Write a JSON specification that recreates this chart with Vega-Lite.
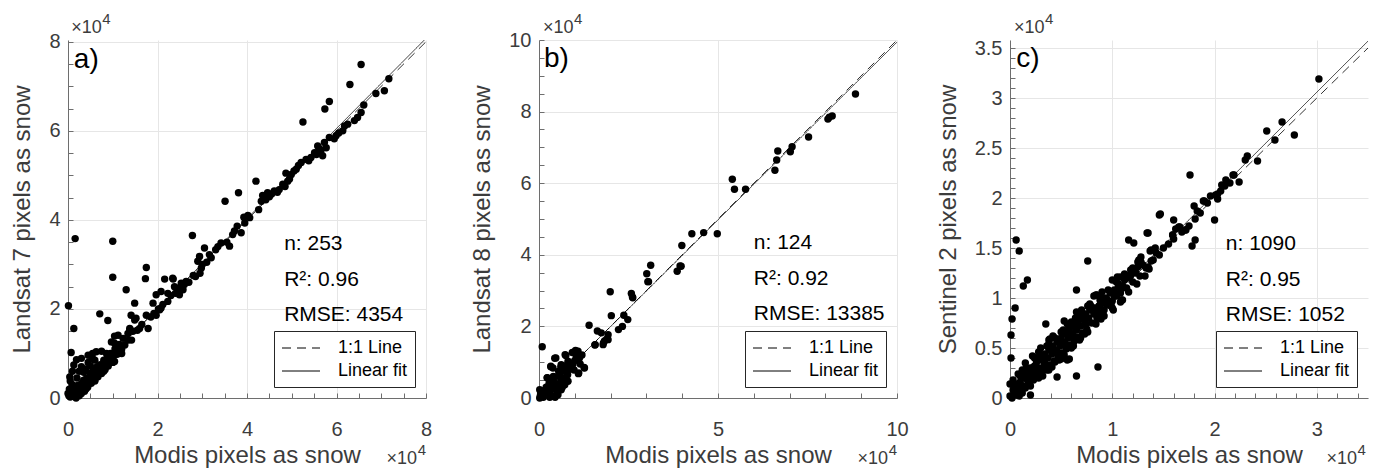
{
  "$schema": "https://vega.github.io/schema/vega-lite/v6.json",
  "background": "white",
  "padding": {"left": 10, "top": 11, "right": 5, "bottom": 0},
  "bounds": "flush",
  "spacing": 113,
  "resolve": {"scale": {"strokeDash": "independent"}, "legend": {"strokeDash": "independent"}},
  "config": {
    "font": "Liberation Sans",
    "view": {"stroke": null},
    "axis": {"labelFontSize": 20, "labelColor": "#3c3c3c", "titleFontSize": 24, "titleFontWeight": "normal", "titleColor": "#3c3c3c", "domainColor": "#6e6e6e", "tickColor": "#6e6e6e", "tickSize": -5, "gridColor": "#e6e6e6", "labelFlush": false, "labelOverlap": false, "tickCount": 200, "labelExpr": "datum.value % 1 === 0 ? '' + datum.value / 10000 : ''"},
    "axisX": {"labelPadding": 26, "titlePadding": 4},
    "axisY": {"labelPadding": 13, "titlePadding": 14},
    "legend": {"orient": "bottom-right", "offset": 11, "strokeColor": "#262626", "fillColor": "white", "padding": 7, "rowPadding": 4, "labelFontSize": 18, "labelColor": "black", "labelFont": "Liberation Sans", "symbolType": "M-2,0H2", "symbolSize": 361, "symbolStrokeWidth": 1, "symbolStrokeColor": "black", "symbolOffset": 10, "labelOffset": 27}
  },
  "hconcat": [
    {
      "width": 358, "height": 358,
      "layer": [
        {
          "data": {"values": [
            {"modis":65500,"sat":74900},{"modis":71700,"sat":71700},{"modis":63000,"sat":70400},{"modis":70700,"sat":69000},{"modis":68800,"sat":68400},{"modis":58400,"sat":66600},{"modis":57400,"sat":64900},{"modis":66100,"sat":65800},{"modis":65500,"sat":64100},{"modis":64700,"sat":63000},{"modis":64000,"sat":62300},{"modis":52500,"sat":62000},{"modis":61800,"sat":61100},{"modis":61400,"sat":60000},{"modis":59900,"sat":58900},{"modis":58400,"sat":58500},{"modis":57300,"sat":57400},{"modis":57700,"sat":56200},{"modis":55800,"sat":56600},{"modis":56500,"sat":55500},{"modis":56900,"sat":54400},{"modis":55100,"sat":55100},{"modis":54300,"sat":54000},{"modis":53200,"sat":53600},{"modis":52100,"sat":52900},{"modis":51000,"sat":51400},{"modis":49900,"sat":50200},{"modis":48700,"sat":50500},{"modis":49100,"sat":48700},{"modis":48000,"sat":48000},{"modis":47200,"sat":46800},{"modis":46100,"sat":46500},{"modis":44600,"sat":46100},{"modis":43900,"sat":45000},{"modis":43200,"sat":44200},{"modis":42000,"sat":48700},{"modis":42600,"sat":42300},{"modis":40600,"sat":40500},{"modis":39300,"sat":40600},{"modis":38100,"sat":46100},{"modis":35100,"sat":44200},{"modis":38700,"sat":37100},{"modis":37800,"sat":38600},{"modis":36800,"sat":36700},{"modis":36100,"sat":34100},{"modis":34200,"sat":34800},{"modis":33000,"sat":33300},{"modis":31600,"sat":32200},{"modis":30500,"sat":33700},{"modis":29400,"sat":31800},{"modis":29000,"sat":30700},{"modis":29800,"sat":29200},{"modis":28500,"sat":27300},{"modis":27800,"sat":36500},{"modis":26400,"sat":26200},{"modis":25700,"sat":24300},{"modis":24900,"sat":23200},{"modis":23800,"sat":25000},{"modis":23400,"sat":26900},{"modis":21600,"sat":26700},{"modis":22300,"sat":23500},{"modis":20800,"sat":23900},{"modis":19700,"sat":23200},{"modis":22300,"sat":21700},{"modis":20800,"sat":20200},{"modis":19700,"sat":18600},{"modis":19000,"sat":21300},{"modis":17500,"sat":29300},{"modis":17300,"sat":26800},{"modis":17500,"sat":18600},{"modis":17900,"sat":15600},{"modis":16000,"sat":15600},{"modis":14900,"sat":21300},{"modis":15200,"sat":17900},{"modis":14100,"sat":18600},{"modis":13000,"sat":24300},{"modis":13800,"sat":15600},{"modis":13400,"sat":14500},{"modis":12300,"sat":13400},{"modis":11200,"sat":14100},{"modis":10000,"sat":35200},{"modis":10000,"sat":27100},{"modis":10400,"sat":12300},{"modis":9700,"sat":12600},{"modis":8900,"sat":17400},{"modis":7100,"sat":18900},{"modis":8600,"sat":10000},{"modis":1600,"sat":35800},{"modis":100,"sat":20700},{"modis":1300,"sat":15600},{"modis":700,"sat":10200},{"modis":6300,"sat":10400},{"modis":4500,"sat":9600},{"modis":3000,"sat":8900},{"modis":1900,"sat":8600},{"modis":1300,"sat":7400},{"modis":400,"sat":4700},{"modis":700,"sat":1000},{"modis":0,"sat":1000},
            {"modis":62500,"sat":61500},{"modis":60500,"sat":59500},{"modis":59500,"sat":58200},{"modis":56200,"sat":56000},{"modis":55500,"sat":54700},{"modis":53800,"sat":53300},{"modis":51500,"sat":52200},{"modis":50500,"sat":51000},{"modis":49500,"sat":49200},{"modis":48500,"sat":47500},{"modis":46800,"sat":46200},{"modis":45500,"sat":45800},{"modis":45000,"sat":45200},{"modis":44200,"sat":44500},{"modis":43500,"sat":45500},{"modis":40200,"sat":41000},{"modis":39500,"sat":39300},{"modis":37200,"sat":37500},{"modis":35500,"sat":35000},{"modis":33500,"sat":34000},{"modis":32000,"sat":31500},{"modis":31000,"sat":30500},{"modis":30000,"sat":30000},{"modis":29500,"sat":28000},{"modis":28000,"sat":27500},{"modis":27000,"sat":26000},{"modis":26000,"sat":25500},{"modis":25200,"sat":25000},{"modis":24500,"sat":24000},{"modis":24000,"sat":23500},{"modis":23000,"sat":23000},{"modis":21200,"sat":21000},{"modis":20200,"sat":20000},{"modis":19200,"sat":19000},{"modis":18500,"sat":18200},{"modis":16500,"sat":16500},{"modis":15500,"sat":15200},{"modis":14500,"sat":15000},{"modis":13500,"sat":13000},{"modis":12700,"sat":11900},{"modis":11600,"sat":10800},{"modis":10400,"sat":8200},{"modis":14900,"sat":17500},{"modis":13800,"sat":15300},{"modis":14200,"sat":13000},{"modis":20500,"sat":19800},{"modis":23500,"sat":26700},{"modis":25300,"sat":25800},{"modis":10400,"sat":13900},
            {"modis":200,"sat":500},{"modis":500,"sat":200},{"modis":800,"sat":1200},{"modis":1000,"sat":400},{"modis":1200,"sat":2000},{"modis":1500,"sat":800},{"modis":1800,"sat":0},{"modis":2000,"sat":1500},{"modis":2200,"sat":2800},{"modis":2500,"sat":500},{"modis":2700,"sat":1800},{"modis":3000,"sat":1000},{"modis":3000,"sat":3200},{"modis":3300,"sat":2200},{"modis":3500,"sat":4000},{"modis":3700,"sat":1500},{"modis":4000,"sat":3000},{"modis":4200,"sat":4500},{"modis":4400,"sat":2400},{"modis":4700,"sat":3800},{"modis":5000,"sat":5500},{"modis":5200,"sat":3300},{"modis":5500,"sat":4500},{"modis":5700,"sat":6200},{"modis":6000,"sat":4000},{"modis":6200,"sat":5200},{"modis":6500,"sat":7000},{"modis":6700,"sat":4800},{"modis":7000,"sat":6000},{"modis":7200,"sat":7500},{"modis":7500,"sat":5500},{"modis":7800,"sat":6800},{"modis":8000,"sat":8500},{"modis":8300,"sat":6400},{"modis":8500,"sat":7800},{"modis":8800,"sat":9200},{"modis":9000,"sat":7200},{"modis":9300,"sat":8600},{"modis":9500,"sat":10000},{"modis":9800,"sat":8000},{"modis":10200,"sat":9500},{"modis":10500,"sat":11000},{"modis":11000,"sat":9800},{"modis":11500,"sat":12000},{"modis":12000,"sat":11000},{"modis":1000,"sat":3000},{"modis":500,"sat":3800},{"modis":2000,"sat":4500},{"modis":3500,"sat":5800},{"modis":5000,"sat":7200},{"modis":6000,"sat":8500},{"modis":2500,"sat":6000},{"modis":4000,"sat":6500},{"modis":1500,"sat":2500},{"modis":300,"sat":2000},{"modis":4500,"sat":8000},{"modis":5500,"sat":8800},
            {"modis":1000,"sat":6000},{"modis":3000,"sat":7000},{"modis":5500,"sat":10000},{"modis":7500,"sat":10500},{"modis":4000,"sat":2000},{"modis":6000,"sat":3800},{"modis":8000,"sat":6000},{"modis":10000,"sat":8000},{"modis":12000,"sat":10000},{"modis":2500,"sat":1200},{"modis":6500,"sat":5800},{"modis":9000,"sat":8200}
          ]},
          "mark": {"type": "circle", "size": 55, "color": "black", "opacity": 1},
          "encoding": {
            "x": {"field": "modis", "type": "quantitative", "title": "Modis pixels as snow", "scale": {"domain": [0, 80000], "nice": false, "zero": false},
              "axis": {"values": [0,5000.5,10000.5,15000.5,20000,25000.5,30000.5,35000.5,40000,45000.5,50000.5,55000.5,60000,65000.5,70000.5,75000.5,80000], "tickCount": 200, "labelOverlap": false, "gridOpacity": {"condition": {"test": "datum.value % 1 === 0", "value": 1}, "value": 0}}},
            "y": {"field": "sat", "type": "quantitative", "title": "Landsat 7 pixels as snow", "scale": {"domain": [0, 80400], "nice": false, "zero": false},
              "axis": {"values": [0,5000.5,10000.5,15000.5,20000,25000.5,30000.5,35000.5,40000,45000.5,50000.5,55000.5,60000,65000.5,70000.5,75000.5,80000], "tickCount": 200, "labelOverlap": false, "gridOpacity": {"condition": {"test": "datum.value % 1 === 0", "value": 1}, "value": 0}}}
          }
        },
        {
          "data": {"values": [{"modis": 0, "sat": 0, "line": "1:1 Line"}, {"modis": 82000, "sat": 82000, "line": "1:1 Line"}, {"modis": 0, "sat": -200, "line": "Linear fit"}, {"modis": 82000, "sat": 82800, "line": "Linear fit"}]},
          "mark": {"type": "line", "color": "black", "strokeWidth": 0.8, "clip": true},
          "encoding": {
            "x": {"field": "modis", "type": "quantitative"},
            "y": {"field": "sat", "type": "quantitative"},
            "strokeDash": {"field": "line", "type": "nominal", "scale": {"domain": ["1:1 Line", "Linear fit"], "range": [[9, 6], [1, 0]]}, "legend": {"title": null}}
          }
        },
        {
          "data": {"values": [{"label": "a)"}]},
          "mark": {"type": "text", "align": "left", "baseline": "alphabetic", "fontSize": 28, "color": "black"},
          "encoding": {"x": {"datum": 1300, "type": "quantitative"}, "y": {"datum": 74100, "type": "quantitative"}, "text": {"field": "label"}}
        },
        {
          "data": {"values": [{"n": "n: 253"}]},
          "mark": {"type": "text", "align": "left", "baseline": "alphabetic", "fontSize": 21, "color": "black", "lineHeight": 35.5},
          "encoding": {"x": {"datum": 48300, "type": "quantitative"}, "y": {"datum": 33200, "type": "quantitative"}, "text": {"value": ["n: 253", "R²: 0.96", "RMSE: 4354"]}}
        },
        {
          "data": {"values": [{"label": "×10"}]},
          "mark": {"type": "text", "align": "left", "baseline": "alphabetic", "fontSize": 18, "color": "#3c3c3c"},
          "encoding": {"x": {"datum": 700, "type": "quantitative"}, "y": {"datum": 82000, "type": "quantitative"}, "text": {"field": "label"}}
        },
        {
          "data": {"values": [{"label": "4"}]},
          "mark": {"type": "text", "align": "left", "baseline": "alphabetic", "fontSize": 15, "color": "#3c3c3c", "dx": 31, "dy": -9},
          "encoding": {"x": {"datum": 700, "type": "quantitative"}, "y": {"datum": 82000, "type": "quantitative"}, "text": {"field": "label"}}
        },
        {
          "data": {"values": [{"label": "×10"}]},
          "mark": {"type": "text", "align": "right", "baseline": "alphabetic", "fontSize": 18, "color": "#3c3c3c", "dx": -9},
          "encoding": {"x": {"datum": 80000, "type": "quantitative"}, "y": {"datum": -14800, "type": "quantitative"}, "text": {"field": "label"}}
        },
        {
          "data": {"values": [{"label": "4"}]},
          "mark": {"type": "text", "align": "right", "baseline": "alphabetic", "fontSize": 15, "color": "#3c3c3c", "dy": -9},
          "encoding": {"x": {"datum": 80000, "type": "quantitative"}, "y": {"datum": -14800, "type": "quantitative"}, "text": {"field": "label"}}
        }
      ]
    },
    {
      "width": 358, "height": 358,
      "layer": [
        {
          "data": {"values": [
            {"modis":88400,"sat":84900},{"modis":81900,"sat":78800},{"modis":80700,"sat":77900},{"modis":81100,"sat":78400},{"modis":75300,"sat":72900},{"modis":70700,"sat":70200},{"modis":70200,"sat":68800},{"modis":66700,"sat":69000},{"modis":66400,"sat":66500},{"modis":65900,"sat":63600},{"modis":54000,"sat":61100},{"modis":54600,"sat":58300},{"modis":57700,"sat":58300},{"modis":49800,"sat":45900},{"modis":46000,"sat":46200},{"modis":42700,"sat":45900},{"modis":39900,"sat":42600},{"modis":39700,"sat":36800},{"modis":38600,"sat":35400},{"modis":31200,"sat":37100},{"modis":30100,"sat":34700},{"modis":30600,"sat":32500},{"modis":25800,"sat":29200},{"modis":26200,"sat":28000},{"modis":19900,"sat":29700},{"modis":20200,"sat":23000},{"modis":23700,"sat":23100},{"modis":24800,"sat":21900},{"modis":23300,"sat":20000},{"modis":22200,"sat":19100},{"modis":14000,"sat":20300},{"modis":16300,"sat":18700},{"modis":17400,"sat":18200},{"modis":19300,"sat":17700},{"modis":19300,"sat":16300},{"modis":18300,"sat":15900},{"modis":15700,"sat":14900},{"modis":17900,"sat":14900},{"modis":900,"sat":14300},{"modis":12700,"sat":8400},{"modis":10900,"sat":13100},{"modis":10400,"sat":11700},{"modis":11300,"sat":11200},{"modis":11100,"sat":7000},{"modis":7300,"sat":12100},{"modis":4700,"sat":11200},{"modis":3300,"sat":8900},{"modis":2300,"sat":5600},{"modis":3900,"sat":8400},{"modis":6200,"sat":9300},{"modis":8100,"sat":10300},{"modis":9000,"sat":8900},{"modis":7200,"sat":7500},{"modis":5300,"sat":6100},{"modis":6200,"sat":4700},{"modis":8100,"sat":4700},{"modis":4400,"sat":3700},{"modis":3400,"sat":2800},{"modis":2500,"sat":1400},{"modis":700,"sat":500},{"modis":200,"sat":2300},{"modis":200,"sat":0},{"modis":3900,"sat":500},{"modis":5300,"sat":900},{"modis":6200,"sat":2300},{"modis":7200,"sat":3700},
            {"modis":39400,"sat":36900},{"modis":30400,"sat":32500},{"modis":26100,"sat":28200},{"modis":18900,"sat":16400},{"modis":18000,"sat":15400},{"modis":15600,"sat":14800},{"modis":10200,"sat":13300},{"modis":10900,"sat":11900},
            {"modis":9300,"sat":12700},{"modis":7500,"sat":11900},{"modis":4400,"sat":11100},{"modis":3300,"sat":8700},{"modis":2300,"sat":5700},{"modis":12600,"sat":8500},{"modis":11000,"sat":6800},{"modis":8400,"sat":9900},{"modis":6100,"sat":8700},
            {"modis":1000,"sat":1000},{"modis":1500,"sat":2000},{"modis":2000,"sat":3000},{"modis":3000,"sat":1500},{"modis":3500,"sat":4500},{"modis":4000,"sat":6000},{"modis":4500,"sat":2500},{"modis":5000,"sat":4000},{"modis":5500,"sat":7500},{"modis":6000,"sat":6000},{"modis":6500,"sat":3000},{"modis":7000,"sat":5500},{"modis":7500,"sat":9000},{"modis":8000,"sat":6500},{"modis":8500,"sat":8000},{"modis":9500,"sat":9500},{"modis":10000,"sat":10500},{"modis":5000,"sat":1500},{"modis":4500,"sat":200},{"modis":3000,"sat":200},{"modis":5800,"sat":3500},{"modis":6800,"sat":4500},{"modis":4000,"sat":5000},{"modis":2800,"sat":4000},{"modis":1200,"sat":200},{"modis":500,"sat":1500},{"modis":12000,"sat":12000},{"modis":11500,"sat":9500},{"modis":9800,"sat":7800},{"modis":600,"sat":2000},{"modis":400,"sat":800}
          ]},
          "mark": {"type": "circle", "size": 55, "color": "black", "opacity": 1},
          "encoding": {
            "x": {"field": "modis", "type": "quantitative", "title": "Modis pixels as snow", "scale": {"domain": [0, 100000], "nice": false, "zero": false},
              "axis": {"values": [0,10000.5,20000.5,30000.5,40000.5,50000,60000.5,70000.5,80000.5,90000.5,100000], "tickCount": 200, "labelOverlap": false, "gridOpacity": {"condition": {"test": "datum.value % 1 === 0", "value": 1}, "value": 0}}},
            "y": {"field": "sat", "type": "quantitative", "title": "Landsat 8 pixels as snow", "scale": {"domain": [0, 100000], "nice": false, "zero": false},
              "axis": {"values": [0,5000.5,10000.5,15000.5,20000,25000.5,30000.5,35000.5,40000,45000.5,50000.5,55000.5,60000,65000.5,70000.5,75000.5,80000,85000.5,90000.5,95000.5,100000], "tickCount": 200, "labelOverlap": false, "gridOpacity": {"condition": {"test": "datum.value % 1 === 0", "value": 1}, "value": 0}}}
          }
        },
        {
          "data": {"values": [{"modis": 0, "sat": 0, "line": "1:1 Line"}, {"modis": 102000, "sat": 102000, "line": "1:1 Line"}, {"modis": 0, "sat": 100, "line": "Linear fit"}, {"modis": 102000, "sat": 101400, "line": "Linear fit"}]},
          "mark": {"type": "line", "color": "black", "strokeWidth": 0.8, "clip": true},
          "encoding": {
            "x": {"field": "modis", "type": "quantitative"},
            "y": {"field": "sat", "type": "quantitative"},
            "strokeDash": {"field": "line", "type": "nominal", "scale": {"domain": ["1:1 Line", "Linear fit"], "range": [[9, 6], [1, 0]]}, "legend": {"title": null}}
          }
        },
        {
          "data": {"values": [{"label": "b)"}]},
          "mark": {"type": "text", "align": "left", "baseline": "alphabetic", "fontSize": 28, "color": "black"},
          "encoding": {"x": {"datum": 1400, "type": "quantitative"}, "y": {"datum": 92500, "type": "quantitative"}, "text": {"field": "label"}}
        },
        {
          "data": {"values": [{"n": "n: 124"}]},
          "mark": {"type": "text", "align": "left", "baseline": "alphabetic", "fontSize": 21, "color": "black", "lineHeight": 35.5},
          "encoding": {"x": {"datum": 60000, "type": "quantitative"}, "y": {"datum": 41600, "type": "quantitative"}, "text": {"value": ["n: 124", "R²: 0.92", "RMSE: 13385"]}}
        },
        {
          "data": {"values": [{"label": "×10"}]},
          "mark": {"type": "text", "align": "left", "baseline": "alphabetic", "fontSize": 18, "color": "#3c3c3c"},
          "encoding": {"x": {"datum": 1100, "type": "quantitative"}, "y": {"datum": 101950, "type": "quantitative"}, "text": {"field": "label"}}
        },
        {
          "data": {"values": [{"label": "4"}]},
          "mark": {"type": "text", "align": "left", "baseline": "alphabetic", "fontSize": 15, "color": "#3c3c3c", "dx": 31, "dy": -9},
          "encoding": {"x": {"datum": 1100, "type": "quantitative"}, "y": {"datum": 101950, "type": "quantitative"}, "text": {"field": "label"}}
        },
        {
          "data": {"values": [{"label": "×10"}]},
          "mark": {"type": "text", "align": "right", "baseline": "alphabetic", "fontSize": 18, "color": "#3c3c3c", "dx": -9},
          "encoding": {"x": {"datum": 100000, "type": "quantitative"}, "y": {"datum": -18400, "type": "quantitative"}, "text": {"field": "label"}}
        },
        {
          "data": {"values": [{"label": "4"}]},
          "mark": {"type": "text", "align": "right", "baseline": "alphabetic", "fontSize": 15, "color": "#3c3c3c", "dy": -9},
          "encoding": {"x": {"datum": 100000, "type": "quantitative"}, "y": {"datum": -18400, "type": "quantitative"}, "text": {"field": "label"}}
        }
      ]
    },
    {
      "width": 358, "height": 358,
      "layer": [
        {
          "data": {"values": [
            {"modis":30200,"sat":31900},{"modis":26600,"sat":27600},{"modis":25100,"sat":26700},{"modis":27800,"sat":26300},{"modis":25900,"sat":25800},{"modis":23200,"sat":24200},{"modis":23000,"sat":23800},{"modis":24200,"sat":23700},{"modis":17600,"sat":22300},{"modis":21800,"sat":22300},{"modis":22400,"sat":21600},{"modis":21100,"sat":21800},{"modis":20700,"sat":21300},{"modis":20300,"sat":20400},{"modis":19600,"sat":20200},{"modis":20300,"sat":19900},{"modis":19000,"sat":19700},{"modis":18000,"sat":19200},{"modis":18300,"sat":18700},{"modis":18100,"sat":17900},{"modis":20000,"sat":17800},{"modis":14600,"sat":18300},{"modis":16000,"sat":17800},{"modis":17100,"sat":16800},{"modis":16500,"sat":17100},{"modis":15900,"sat":16300},{"modis":16000,"sat":15900},{"modis":18100,"sat":15800},{"modis":17800,"sat":15200},{"modis":13400,"sat":16500},{"modis":11600,"sat":15800},{"modis":12100,"sat":15500},{"modis":13700,"sat":14700},{"modis":14600,"sat":14300},{"modis":12800,"sat":14100},{"modis":12500,"sat":13600},{"modis":13800,"sat":13700},{"modis":13600,"sat":12900},{"modis":11900,"sat":12800},{"modis":11800,"sat":12300},{"modis":10800,"sat":12100},{"modis":10000,"sat":11800},{"modis":10600,"sat":11100},{"modis":11000,"sat":9800},{"modis":10100,"sat":8800},{"modis":7600,"sat":13700},{"modis":6500,"sat":10800},{"modis":8400,"sat":10300},{"modis":9000,"sat":10000},{"modis":9500,"sat":9800},{"modis":8800,"sat":9300},{"modis":7900,"sat":9200},{"modis":3500,"sat":7400},{"modis":6500,"sat":8600},{"modis":5300,"sat":7700},{"modis":3800,"sat":5800},{"modis":6100,"sat":5300},{"modis":5000,"sat":3900},{"modis":5600,"sat":3800},{"modis":4600,"sat":2100},{"modis":6500,"sat":2200},{"modis":8600,"sat":3100},{"modis":600,"sat":15800},{"modis":900,"sat":14700},{"modis":1300,"sat":11200},{"modis":1700,"sat":11800},{"modis":500,"sat":9000},{"modis":200,"sat":7900},{"modis":100,"sat":6300},{"modis":100,"sat":4000},{"modis":2000,"sat":300},{"modis":0,"sat":1400},{"modis":1200,"sat":2800},
            {"modis":21900,"sat":22300},{"modis":20100,"sat":20300},{"modis":18900,"sat":19700},{"modis":14700,"sat":18400},{"modis":16600,"sat":17100},{"modis":17200,"sat":16800},{"modis":15900,"sat":16300},{"modis":13500,"sat":16500},{"modis":13800,"sat":14800},{"modis":12500,"sat":13100},{"modis":13500,"sat":13100},{"modis":12000,"sat":12600},{"modis":10500,"sat":12100},{"modis":3900,"sat":5900},{"modis":5800,"sat":3900},{"modis":6200,"sat":5200},{"modis":8500,"sat":10300},{"modis":10900,"sat":9800},
            {"modis":0,"sat":200},{"modis":200,"sat":0},{"modis":300,"sat":800},{"modis":400,"sat":300},{"modis":500,"sat":1200},{"modis":600,"sat":500},{"modis":800,"sat":1000},{"modis":900,"sat":200},{"modis":1000,"sat":1600},{"modis":1100,"sat":800},{"modis":1300,"sat":1200},{"modis":1400,"sat":2200},{"modis":1500,"sat":1000},{"modis":1700,"sat":1800},{"modis":1800,"sat":2800},{"modis":1900,"sat":1400},{"modis":2100,"sat":2200},{"modis":2200,"sat":3000},{"modis":2300,"sat":1800},{"modis":2500,"sat":2600},{"modis":2600,"sat":3600},{"modis":2700,"sat":2200},{"modis":2900,"sat":3000},{"modis":3000,"sat":4200},{"modis":3100,"sat":2500},{"modis":3300,"sat":3600},{"modis":3400,"sat":4400},{"modis":3500,"sat":3000},{"modis":3700,"sat":4000},{"modis":3800,"sat":4800},{"modis":3900,"sat":3300},{"modis":4100,"sat":4400},{"modis":4200,"sat":5200},{"modis":4300,"sat":3700},{"modis":4500,"sat":4800},{"modis":4600,"sat":5600},{"modis":4700,"sat":4100},{"modis":4900,"sat":5200},{"modis":5000,"sat":6000},{"modis":5100,"sat":4500},{"modis":5300,"sat":5600},{"modis":5400,"sat":6400},{"modis":5500,"sat":4900},{"modis":5700,"sat":6000},{"modis":5800,"sat":6800},{"modis":5900,"sat":5300},{"modis":6100,"sat":6400},{"modis":6200,"sat":7200},{"modis":6300,"sat":5700},{"modis":6500,"sat":6800},{"modis":6600,"sat":7600},{"modis":6700,"sat":6100},{"modis":6900,"sat":7200},{"modis":7000,"sat":8000},{"modis":7100,"sat":6500},{"modis":7300,"sat":7600},{"modis":7400,"sat":8400},{"modis":7500,"sat":6900},{"modis":7700,"sat":8000},{"modis":7800,"sat":8800},{"modis":8000,"sat":7500},{"modis":8200,"sat":8400},{"modis":8300,"sat":9000},{"modis":8500,"sat":8000},{"modis":8700,"sat":9200},{"modis":8800,"sat":8400},{"modis":9000,"sat":9500},{"modis":9200,"sat":8800},{"modis":9400,"sat":10000},{"modis":9600,"sat":9300},{"modis":9800,"sat":10500},{"modis":10000,"sat":9700},{"modis":10200,"sat":10800},{"modis":10400,"sat":10200},{"modis":10600,"sat":11400},{"modis":10800,"sat":10500},{"modis":11000,"sat":11200},{"modis":11200,"sat":11800},{"modis":11400,"sat":11000},{"modis":11700,"sat":12000},{"modis":12000,"sat":11600},{"modis":12300,"sat":12500},{"modis":12700,"sat":12200},{"modis":13000,"sat":13300},{"modis":13300,"sat":13000},{"modis":14000,"sat":13800},{"modis":14300,"sat":14500},{"modis":15000,"sat":15000},{"modis":15500,"sat":15400},{"modis":16800,"sat":16600},{"modis":17500,"sat":17200},{"modis":18600,"sat":18500},{"modis":19300,"sat":19500},{"modis":20600,"sat":20700},{"modis":21000,"sat":21200},{"modis":21500,"sat":21500},
            {"modis":1000,"sat":2200},{"modis":1600,"sat":3000},{"modis":2400,"sat":4000},{"modis":2800,"sat":4600},{"modis":3600,"sat":5200},{"modis":4400,"sat":6000},{"modis":5200,"sat":6800},{"modis":6000,"sat":7600},{"modis":6800,"sat":8400},{"modis":7600,"sat":9200},
            {"modis":500,"sat":700},{"modis":700,"sat":1400},{"modis":1200,"sat":500},{"modis":1600,"sat":2200},{"modis":2000,"sat":1200},{"modis":2400,"sat":3200},{"modis":2800,"sat":2000},{"modis":3200,"sat":3800},{"modis":3600,"sat":2800},{"modis":4000,"sat":5000},{"modis":4400,"sat":3600},{"modis":4800,"sat":5800},{"modis":5200,"sat":4200},{"modis":5600,"sat":6400},{"modis":6000,"sat":5000},{"modis":6400,"sat":7200},{"modis":6800,"sat":5800},{"modis":7200,"sat":8200},{"modis":7600,"sat":6600},{"modis":8000,"sat":9000},{"modis":8400,"sat":7400},{"modis":8800,"sat":9800},{"modis":9200,"sat":8200},{"modis":9600,"sat":10800},{"modis":10000,"sat":9000},{"modis":10400,"sat":11600},{"modis":10800,"sat":9600},{"modis":11200,"sat":12400},{"modis":11600,"sat":10600},{"modis":12000,"sat":13000},{"modis":12400,"sat":11400},{"modis":12800,"sat":13600},{"modis":13200,"sat":12200},{"modis":1500,"sat":3500},{"modis":2200,"sat":4200},{"modis":3000,"sat":5000},{"modis":4200,"sat":6200},{"modis":5600,"sat":7400},{"modis":7000,"sat":8800},{"modis":8200,"sat":10200},{"modis":1000,"sat":1000},{"modis":1800,"sat":1800},{"modis":2600,"sat":2600},{"modis":3400,"sat":3400},{"modis":4600,"sat":4600},{"modis":5400,"sat":5400},{"modis":6200,"sat":6200},{"modis":7400,"sat":7400},{"modis":8600,"sat":8600},{"modis":9400,"sat":9400},{"modis":10200,"sat":10200},{"modis":11000,"sat":11000},{"modis":5800,"sat":7000},{"modis":6600,"sat":7800},{"modis":3800,"sat":2800},{"modis":4800,"sat":3800},{"modis":3200,"sat":2200},{"modis":2000,"sat":3000},{"modis":1200,"sat":2000},{"modis":400,"sat":1200},
            {"modis":1400,"sat":2700},{"modis":2600,"sat":3900},{"modis":3800,"sat":5400},{"modis":5000,"sat":6600},{"modis":6400,"sat":8000},{"modis":7800,"sat":9400},{"modis":9000,"sat":10600},{"modis":4100,"sat":3100},{"modis":5300,"sat":4300},{"modis":6900,"sat":6000},{"modis":7300,"sat":6400},{"modis":8900,"sat":7900},{"modis":9900,"sat":9200},{"modis":11800,"sat":12800},{"modis":12600,"sat":13800},{"modis":14200,"sat":15000},{"modis":16200,"sat":16900},{"modis":300,"sat":1800},{"modis":800,"sat":2400},{"modis":2300,"sat":2400}
          ]},
          "mark": {"type": "circle", "size": 55, "color": "black", "opacity": 1},
          "encoding": {
            "x": {"field": "modis", "type": "quantitative", "title": "Modis pixels as snow", "scale": {"domain": [0, 35000], "nice": false, "zero": false},
              "axis": {"values": [0,2000.5,4000.5,6000.5,8000.5,10000,12000.5,14000.5,16000.5,18000.5,20000,22000.5,24000.5,26000.5,28000.5,30000,32000.5,34000.5], "tickCount": 200, "labelOverlap": false, "gridOpacity": {"condition": {"test": "datum.value % 1 === 0", "value": 1}, "value": 0}}},
            "y": {"field": "sat", "type": "quantitative", "title": "Sentinel 2 pixels as snow", "scale": {"domain": [0, 35800], "nice": false, "zero": false},
              "axis": {"values": [0,1000.5,2000.5,3000.5,4000.5,5000,6000.5,7000.5,8000.5,9000.5,10000,11000.5,12000.5,13000.5,14000.5,15000,16000.5,17000.5,18000.5,19000.5,20000,21000.5,22000.5,23000.5,24000.5,25000,26000.5,27000.5,28000.5,29000.5,30000,31000.5,32000.5,33000.5,34000.5,35000], "tickCount": 200, "labelOverlap": false, "gridOpacity": {"condition": {"test": "datum.value % 1 === 0", "value": 1}, "value": 0}}}
          }
        },
        {
          "data": {"values": [{"modis": 0, "sat": 0, "line": "1:1 Line"}, {"modis": 36000, "sat": 36000, "line": "1:1 Line"}, {"modis": 0, "sat": -50, "line": "Linear fit"}, {"modis": 36000, "sat": 36710, "line": "Linear fit"}]},
          "mark": {"type": "line", "color": "black", "strokeWidth": 0.8, "clip": true},
          "encoding": {
            "x": {"field": "modis", "type": "quantitative"},
            "y": {"field": "sat", "type": "quantitative"},
            "strokeDash": {"field": "line", "type": "nominal", "scale": {"domain": ["1:1 Line", "Linear fit"], "range": [[9, 6], [1, 0]]}, "legend": {"title": null}}
          }
        },
        {
          "data": {"values": [{"label": "c)"}]},
          "mark": {"type": "text", "align": "left", "baseline": "alphabetic", "fontSize": 28, "color": "black"},
          "encoding": {"x": {"datum": 600, "type": "quantitative"}, "y": {"datum": 33100, "type": "quantitative"}, "text": {"field": "label"}}
        },
        {
          "data": {"values": [{"n": "n: 1090"}]},
          "mark": {"type": "text", "align": "left", "baseline": "alphabetic", "fontSize": 21, "color": "black", "lineHeight": 35.5},
          "encoding": {"x": {"datum": 21100, "type": "quantitative"}, "y": {"datum": 14800, "type": "quantitative"}, "text": {"value": ["n: 1090", "R²: 0.95", "RMSE: 1052"]}}
        },
        {
          "data": {"values": [{"label": "×10"}]},
          "mark": {"type": "text", "align": "left", "baseline": "alphabetic", "fontSize": 18, "color": "#3c3c3c"},
          "encoding": {"x": {"datum": 400, "type": "quantitative"}, "y": {"datum": 36500, "type": "quantitative"}, "text": {"field": "label"}}
        },
        {
          "data": {"values": [{"label": "4"}]},
          "mark": {"type": "text", "align": "left", "baseline": "alphabetic", "fontSize": 15, "color": "#3c3c3c", "dx": 31, "dy": -9},
          "encoding": {"x": {"datum": 400, "type": "quantitative"}, "y": {"datum": 36500, "type": "quantitative"}, "text": {"field": "label"}}
        },
        {
          "data": {"values": [{"label": "×10"}]},
          "mark": {"type": "text", "align": "right", "baseline": "alphabetic", "fontSize": 18, "color": "#3c3c3c", "dx": -9},
          "encoding": {"x": {"datum": 34800, "type": "quantitative"}, "y": {"datum": -6600, "type": "quantitative"}, "text": {"field": "label"}}
        },
        {
          "data": {"values": [{"label": "4"}]},
          "mark": {"type": "text", "align": "right", "baseline": "alphabetic", "fontSize": 15, "color": "#3c3c3c", "dy": -9},
          "encoding": {"x": {"datum": 34800, "type": "quantitative"}, "y": {"datum": -6600, "type": "quantitative"}, "text": {"field": "label"}}
        }
      ]
    }
  ]
}
